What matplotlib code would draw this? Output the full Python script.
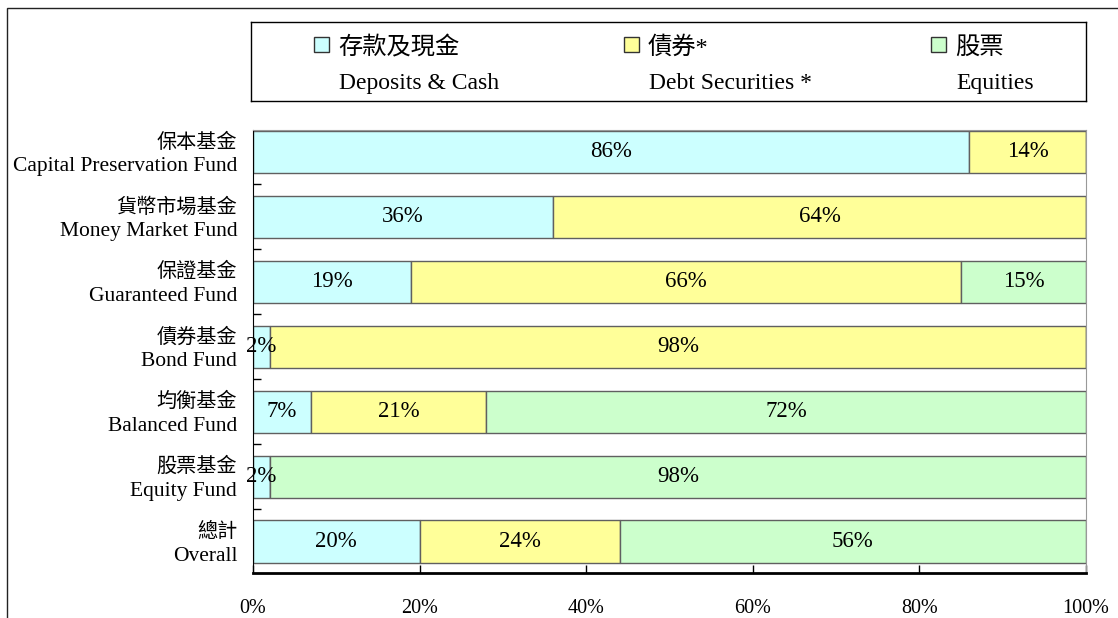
#!/usr/bin/env python3

import matplotlib
matplotlib.use('Agg')
from matplotlib import pyplot as plt
from matplotlib.patches import Rectangle
from matplotlib import transforms
import numpy as np

plt.rcParams['font.family'] = ['Liberation Serif', 'Noto Sans CJK TC']

funds_zh = ["保本基金", "貨幣市場基金", "保證基金", "債券基金", "均衡基金", "股票基金", "總計"]
funds_en = ["Capital Preservation Fund", "Money Market Fund", "Guaranteed Fund",
            "Bond Fund", "Balanced Fund", "Equity Fund", "Overall"]

deposits = [86, 36, 19, 2, 7, 2, 20]
debt = [14, 64, 66, 98, 21, 0, 24]
equities = [0, 0, 15, 0, 72, 98, 56]

series_zh = ["存款及現金", "債券*", "股票"]
series_en = ["Deposits & Cash", "Debt Securities *", "Equities"]
colors = ["#CCFFFF", "#FFFF99", "#CCFFCC"]

W, H = 1118, 618
fig = plt.figure(figsize=(W / 100, H / 100), dpi=100)

# outer frame (runs off the right and bottom edges)
fig.patches.append(Rectangle((7 / W, -0.1), 1.2, 1 - 8 / H + 0.1, transform=fig.transFigure,
                             fill=False, edgecolor="#222222", linewidth=1.0))

ax = fig.add_axes([253 / W, 1 - 573 / H, (1086 - 253) / W, (573 - 130) / H])

n = len(funds_zh)
y = np.arange(n)
left = np.zeros(n)
for vals, c in zip([deposits, debt, equities], colors):
    vals = np.array(vals, dtype=float)
    ax.barh(y, vals, left=left, height=0.65, color=c, edgecolor="#606060", linewidth=1.0)
    for yi, l, v in zip(y, left, vals):
        if v > 0:
            ax.text(l + v / 2, yi, "%d%%" % v, ha="center", va="center", fontsize=16.5)
    left += vals

ax.set_xlim(0, 100)
ax.set_ylim(n - 1 + 31.5 / 65, -22 / 65)
ax.set_xticks([0, 20, 40, 60, 80, 100])
ax.set_xticklabels(["0%", "20%", "40%", "60%", "80%", "100%"], fontsize=14.5)
ax.set_yticks([])
ax.set_yticks(np.arange(0.5, n - 1, 1.0), minor=True)
ax.tick_params(axis="y", which="minor", direction="in", length=6, width=1)
ax.tick_params(axis="x", direction="in", length=6, width=1, pad=19)

# two-line category labels: Chinese above, English below
ylab = transforms.blended_transform_factory(ax.transAxes, ax.transData)
for yi, zh, en in zip(y, funds_zh, funds_en):
    ax.text(-0.019, yi, zh, ha="right", va="center", fontsize=14.5,
            transform=transforms.offset_copy(ylab, fig=fig, y=9, units="dots"))
    ax.text(-0.019, yi, en, ha="right", va="center", fontsize=15.5,
            transform=transforms.offset_copy(ylab, fig=fig, y=-15, units="dots"))

ax.spines["left"].set_color("black")
ax.spines["bottom"].set_color("black")
ax.spines["bottom"].set_linewidth(2)
ax.spines["top"].set_color("#999999")
ax.spines["right"].set_color("#999999")

# legend box
lax = fig.add_axes([251 / W, 1 - 101 / H, (1086 - 251) / W, (101 - 22) / H])
lax.set_xlim(251, 1086)
lax.set_ylim(101, 22)
lax.set_xticks([])
lax.set_yticks([])
for s in lax.spines.values():
    s.set_color("black")
    s.set_linewidth(1)
for x0, c, zh, en in zip([314, 624, 931], colors, series_zh, series_en):
    lax.add_patch(Rectangle((x0, 37), 15, 15, facecolor=c, edgecolor="#333333", linewidth=1))
    lax.text(x0 + 24, 54, zh, ha="left", va="baseline", fontsize=17.5)
    lax.text(x0 + 25, 89, en, ha="left", va="baseline", fontsize=17)

plt.savefig("out.png")
